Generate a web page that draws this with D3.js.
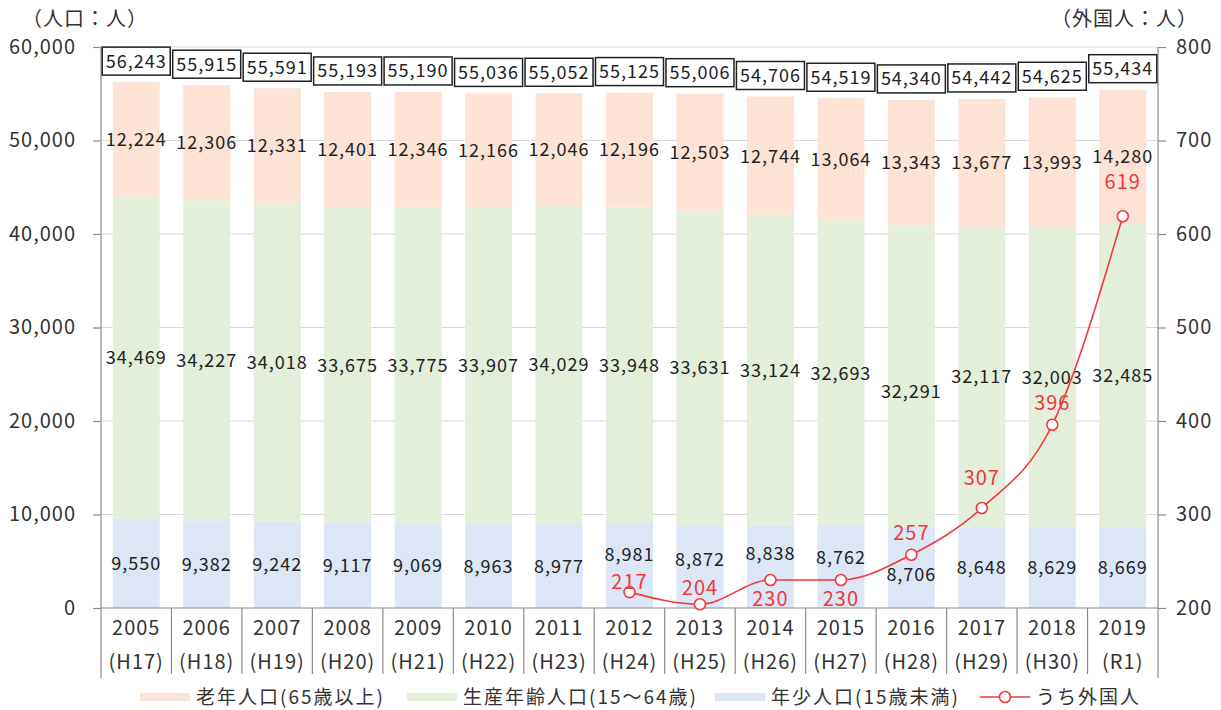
<!DOCTYPE html>
<html>
<head>
<meta charset="utf-8">
<title>人口の推移</title>
<style>
  body { margin: 0; background: #fff; }
  svg { display: block; font-family: "Noto Sans CJK JP", "Noto Sans", sans-serif; }
  svg text { letter-spacing: 1px; }
  .legend text { letter-spacing: 2px; }
</style>
</head>
<body>
<div id="chart"></div>
<script src="https://d3js.org/d3.v7.min.js"></script>
<script>
// ---- data ----
const years = ["2005","2006","2007","2008","2009","2010","2011","2012","2013","2014","2015","2016","2017","2018","2019"];
const eras = ["(H17)","(H18)","(H19)","(H20)","(H21)","(H22)","(H23)","(H24)","(H25)","(H26)","(H27)","(H28)","(H29)","(H30)","(R1)"];
const young = [9550,9382,9242,9117,9069,8963,8977,8981,8872,8838,8762,8706,8648,8629,8669];
const working = [34469,34227,34018,33675,33775,33907,34029,33948,33631,33124,32693,32291,32117,32003,32485];
const elderly = [12224,12306,12331,12401,12346,12166,12046,12196,12503,12744,13064,13343,13677,13993,14280];
const totals = [56243,55915,55591,55193,55190,55036,55052,55125,55006,54706,54519,54340,54442,54625,55434];
const foreign = [null,null,null,null,null,null,null,217,204,230,230,257,307,396,619];
const leftTicks = [0,10000,20000,30000,40000,50000,60000];
const rightTicks = [200,300,400,500,600,700,800];

const W = 1221, H = 710;
const plot = {left: 101, right: 1158, top: 47, bottom: 608};

// label nudges (labels that were dragged by hand in the original)
const segNudge = {"young-2012": -11, "young-2013": -7, "young-2014": -13, "young-2015": -10,
                  "young-2016": 7, "working-2016": 16};
const lineLabelDy = {2012: -10, 2013: -16, 2014: 19, 2015: 19, 2016: -22, 2017: -30, 2018: -22, 2019: -34};

const svg = d3.select("#chart").append("svg").attr("width", W).attr("height", H);

const x = d3.scaleBand().domain(years).range([plot.left, plot.right])
  .paddingInner(0.333).paddingOuter(0.1665);
const yL = d3.scaleLinear().domain([0, 60000]).range([plot.bottom, plot.top]);
const yR = d3.scaleLinear().domain([200, 800]).range([plot.bottom, plot.top]);
const fmt = d3.format(",");
const cx = d => x(d) + x.bandwidth() / 2;

// gridlines
svg.append("g").selectAll("line").data(leftTicks.slice(1)).join("line")
  .attr("x1", plot.left).attr("x2", plot.right)
  .attr("y1", d => yL(d)).attr("y2", d => yL(d))
  .attr("stroke", "#d9d9d9").attr("stroke-width", 1.2);

// stacked bars
const series = [
  {key: "young", values: young, color: "#dce6f4", name: "年少人口(15歳未満)"},
  {key: "working", values: working, color: "#e3efda", name: "生産年齢人口(15〜64歳)"},
  {key: "elderly", values: elderly, color: "#fce3d5", name: "老年人口(65歳以上)"}
];
const rows = years.map((yr, i) => ({year: yr, young: young[i], working: working[i], elderly: elderly[i]}));
const stack = d3.stack().keys(series.map(s => s.key))(rows);

const barG = svg.append("g");
stack.forEach((layer, li) => {
  barG.append("g").selectAll("rect").data(layer).join("rect")
    .attr("x", d => x(d.data.year))
    .attr("width", x.bandwidth())
    .attr("y", d => yL(d[1]))
    .attr("height", d => yL(d[0]) - yL(d[1]))
    .attr("fill", series[li].color);
});

// axes
const axisColor = "#8c8c8c";
svg.append("line").attr("x1", plot.left).attr("x2", plot.left)
  .attr("y1", plot.top).attr("y2", 678).attr("stroke", axisColor).attr("stroke-width", 1.2);
svg.append("line").attr("x1", plot.right).attr("x2", plot.right)
  .attr("y1", plot.top).attr("y2", 678).attr("stroke", axisColor).attr("stroke-width", 1.2);
svg.append("line").attr("x1", plot.left).attr("x2", plot.right)
  .attr("y1", plot.bottom).attr("y2", plot.bottom).attr("stroke", axisColor).attr("stroke-width", 1.2);

// category separators
svg.append("g").selectAll("line").data(years.slice(1)).join("line")
  .attr("x1", d => cx(d) - x.step() / 2).attr("x2", d => cx(d) - x.step() / 2)
  .attr("y1", plot.bottom).attr("y2", 674)
  .attr("stroke", axisColor).attr("stroke-width", 1.2);

const leftAxis = svg.append("g").attr("transform", `translate(${plot.left},0)`)
  .call(d3.axisLeft(yL).tickValues(leftTicks).tickFormat(fmt).tickSize(8).tickPadding(17));
const rightAxis = svg.append("g").attr("transform", `translate(${plot.right},0)`)
  .call(d3.axisRight(yR).tickValues(rightTicks).tickSize(8).tickPadding(10));
[leftAxis, rightAxis].forEach(a => {
  a.select(".domain").remove();
  a.selectAll(".tick line").attr("stroke", axisColor).attr("stroke-width", 1.2);
  a.selectAll(".tick text").attr("fill", "#333").style("font-size", "20px")
    .style("font-family", "'Noto Sans CJK JP', sans-serif");
});

// x labels
const xl = svg.append("g").selectAll("g").data(years).join("g")
  .attr("transform", d => `translate(${cx(d)},0)`);
xl.append("text").attr("y", 635).attr("text-anchor", "middle")
  .attr("fill", "#333").style("font-size", "20px").text(d => d);
xl.append("text").attr("y", 669).attr("text-anchor", "middle")
  .attr("fill", "#333").style("font-size", "20px").text((d, i) => eras[i]);

// segment value labels
stack.forEach((layer, li) => {
  const key = series[li].key;
  barG.append("g").selectAll("text").data(layer).join("text")
    .attr("x", d => cx(d.data.year))
    .attr("y", d => (yL(d[0]) + yL(d[1])) / 2 + (segNudge[key + "-" + d.data.year] || 0))
    .attr("dy", "0.36em")
    .attr("text-anchor", "middle").attr("fill", "#222")
    .style("font-size", "18px")
    .text(d => fmt(d.data[key]));
});

// totals in boxes
const tot = svg.append("g").selectAll("g").data(years).join("g")
  .attr("transform", (d, i) => `translate(${cx(d)},${yL(totals[i]) - 21})`);
tot.append("rect").attr("x", -34).attr("y", -14).attr("width", 68).attr("height", 28)
  .attr("fill", "#fff").attr("stroke", "#222").attr("stroke-width", 1.5);
tot.append("text").attr("text-anchor", "middle").attr("dy", "0.36em")
  .attr("fill", "#222").style("font-size", "18px").text((d, i) => fmt(totals[i]));

// foreign residents line
const red = "#f0393c";
const pts = years.map((yr, i) => ({year: yr, v: foreign[i]})).filter(d => d.v != null);
svg.append("path").datum(pts)
  .attr("fill", "none").attr("stroke", red).attr("stroke-width", 1.6)
  .attr("d", d3.line().x(d => cx(d.year)).y(d => yR(d.v)).curve(d3.curveMonotoneX));
svg.append("g").selectAll("circle").data(pts).join("circle")
  .attr("cx", d => cx(d.year)).attr("cy", d => yR(d.v)).attr("r", 5.5)
  .attr("fill", "#fff").attr("stroke", red).attr("stroke-width", 1.6);
svg.append("g").selectAll("text").data(pts).join("text")
  .attr("x", d => cx(d.year)).attr("y", d => yR(d.v) + lineLabelDy[d.year])
  .attr("dy", "0.36em").attr("text-anchor", "middle")
  .attr("fill", red).style("font-size", "20px").text(d => d.v);

// unit captions
svg.append("text").attr("x", 22).attr("y", 19).attr("dy", "0.36em")
  .attr("fill", "#333").style("font-size", "20px").text("（人口：人）");
svg.append("text").attr("x", 1198).attr("y", 19).attr("dy", "0.36em").attr("text-anchor", "end")
  .attr("fill", "#333").style("font-size", "20px").text("（外国人：人）");

// legend
const legendY = 697;
const legendItems = [
  {x: 140, color: series[2].color, name: series[2].name},
  {x: 407, color: series[1].color, name: series[1].name},
  {x: 715, color: series[0].color, name: series[0].name}
];
const legend = svg.append("g").attr("class", "legend");
const lg = legend.selectAll("g").data(legendItems).join("g")
  .attr("transform", d => `translate(${d.x},${legendY})`);
lg.append("rect").attr("x", 0).attr("y", -4).attr("width", 50).attr("height", 8).attr("fill", d => d.color);
lg.append("text").attr("x", 56).attr("dy", "0.36em").attr("fill", "#333")
  .style("font-size", "19px").text(d => d.name);
const ll = legend.append("g").attr("transform", `translate(980,${legendY})`);
ll.append("line").attr("x1", 0).attr("x2", 50).attr("stroke", red).attr("stroke-width", 1.6);
ll.append("circle").attr("cx", 25).attr("r", 5.5).attr("fill", "#fff").attr("stroke", red).attr("stroke-width", 1.6);
ll.append("text").attr("x", 56).attr("dy", "0.36em").attr("fill", "#333")
  .style("font-size", "19px").text("うち外国人");
</script>
</body>
</html>
